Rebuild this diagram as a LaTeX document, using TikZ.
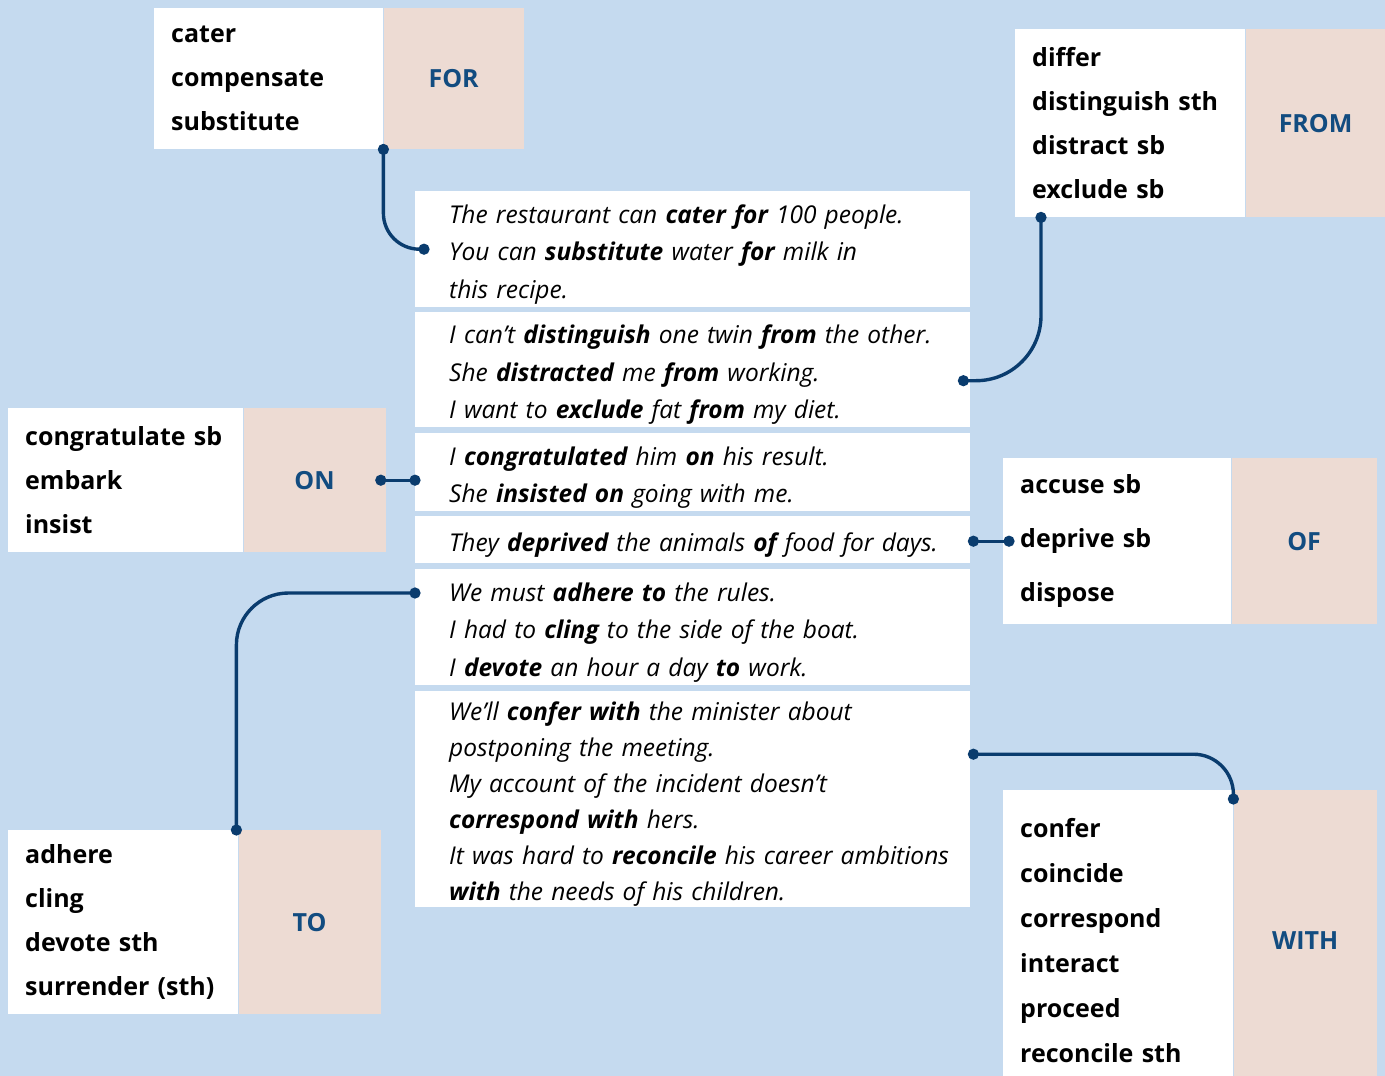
\documentclass[tikz,border=0pt]{standalone}
\usepackage{fontspec}
\setmainfont{Open Sans}
\usetikzlibrary{arrows.meta,positioning}
\definecolor{pagebg}{HTML}{C5DAEF}
\definecolor{prepbg}{HTML}{EDDBD3}
\definecolor{prepblue}{HTML}{124C80}
\definecolor{linkblue}{HTML}{0A3C6E}

\begin{document}
\begin{tikzpicture}[x=1pt, y=-1pt,
  verbs/.style={fill=white, anchor=north west, align=left, inner xsep=17pt,
    inner ysep=0pt, font=\bfseries\fontsize{25}{44}\selectfont},
  prep/.style={fill=prepbg, text=prepblue, inner sep=0pt,
    font=\bfseries\fontsize{25}{30}\selectfont},
  example/.style={fill=white, anchor=north west, align=left, inner xsep=0pt,
    inner ysep=0pt, minimum width=555pt, text width=555pt,
    execute at begin node={\leftskip=34pt\hyphenpenalty=10000\rule{0pt}{29pt}},
    font=\itshape\fontsize{24.5}{37.5}\selectfont},
  link/.style={{Circle[length=11pt]}-{Circle[length=11pt]}, shorten <=-5.5pt,
    shorten >=-5.5pt, line width=3.4pt, draw=linkblue}]
  \fill[pagebg] (0,0) rectangle (1385,1076);
  \useasboundingbox (0,0) rectangle (1385,1076);

  % verb lists and their prepositions
  \node[verbs, text width=195pt, minimum height=141pt] (forlist) at (154,8)
    {cater\\compensate\\substitute};
  \node[prep, minimum width=140pt, minimum height=141pt, right=0pt of forlist] (forprep) {FOR};
  \node[verbs, text width=196pt, minimum height=188pt] (fromlist) at (1015,29)
    {differ\\distinguish sth\\distract sb\\exclude sb};
  \node[prep, minimum width=140pt, minimum height=188pt, right=0pt of fromlist] (fromprep) {FROM};
  \node[verbs, text width=201pt, minimum height=144pt] (onlist) at (8,408)
    {congratulate sb\\embark\\insist};
  \node[prep, minimum width=142pt, minimum height=144pt, right=0pt of onlist] (onprep) {ON};
  \node[verbs, text width=194pt, minimum height=166pt,
    font=\bfseries\fontsize{25}{54}\selectfont] (oflist) at (1003,458)
    {accuse sb\\deprive sb\\dispose};
  \node[prep, minimum width=145pt, minimum height=166pt, right=0pt of oflist] (ofprep) {OF};
  \node[verbs, text width=196pt, minimum height=184pt] (tolist) at (8,830)
    {adhere\\cling\\devote sth\\surrender (sth)};
  \node[prep, minimum width=142pt, minimum height=184pt, right=0pt of tolist] (toprep) {TO};
  \node[verbs, text width=196pt, minimum height=301pt,
    font=\bfseries\fontsize{25}{45}\selectfont] (withlist) at (1003,790)
    {confer\\coincide\\correspond\\interact\\proceed\\reconcile sth};
  \node[prep, minimum width=143pt, minimum height=301pt, right=0pt of withlist] (withprep) {WITH};

  % example sentences
  \node[example, minimum height=116pt] (exfor) at (415,191)
    {The restaurant can \textbf{cater for} 100 people.\\
     You can \textbf{substitute} water \textbf{for} milk in\\
     this recipe.};
  \node[example, minimum height=115pt] (exfrom) at (415,312)
    {I can’t \textbf{distinguish} one twin \textbf{from} the other.\\
     She \textbf{distracted} me \textbf{from} working.\\
     I want to \textbf{exclude} fat \textbf{from} my diet.};
  \node[example, minimum height=78pt] (exon) at (415,433)
    {I \textbf{congratulated} him \textbf{on} his result.\\
     She \textbf{insisted on} going with me.};
  \node[example, minimum height=47pt] (exof) at (415,516)
    {They \textbf{deprived} the animals \textbf{of} food for days.};
  \node[example, minimum height=116pt] (exto) at (415,569)
    {We must \textbf{adhere to} the rules.\\
     I had to \textbf{cling} to the side of the boat.\\
     I \textbf{devote} an hour a day \textbf{to} work.};
  \node[example, minimum height=216pt, font=\itshape\fontsize{24.5}{36}\selectfont] (exwith) at (415,691)
    {We’ll \textbf{confer with} the minister about\\
     postponing the meeting.\\
     My account of the incident doesn’t\\
     \textbf{correspond with} hers.\\
     It was hard to \textbf{reconcile} his career ambitions\\
     \textbf{with} the needs of his children.};

  % links
  \draw[link, rounded corners=36pt] (forlist.south east) |- ([xshift=9pt]exfor.west);
  \draw[link, rounded corners=65pt] ([xshift=26pt]fromlist.south west)
    |- ([xshift=-7pt,yshift=-11pt]exfrom.east);
  \draw[link] ([xshift=-5pt]onprep.east) -- (exon.west |- onprep.east);
  \draw[link] ([xshift=3pt]exof.east |- oflist.west) -- ([xshift=6pt]oflist.west);
  \draw[link, rounded corners=52pt] ([xshift=-2pt]tolist.north east)
    |- ([yshift=-24pt]exto.north west);
  \draw[link, rounded corners=40pt] ([xshift=3pt,yshift=45pt]exwith.east)
    -| ([yshift=-9pt]withprep.north west);
\end{tikzpicture}
\end{document}
